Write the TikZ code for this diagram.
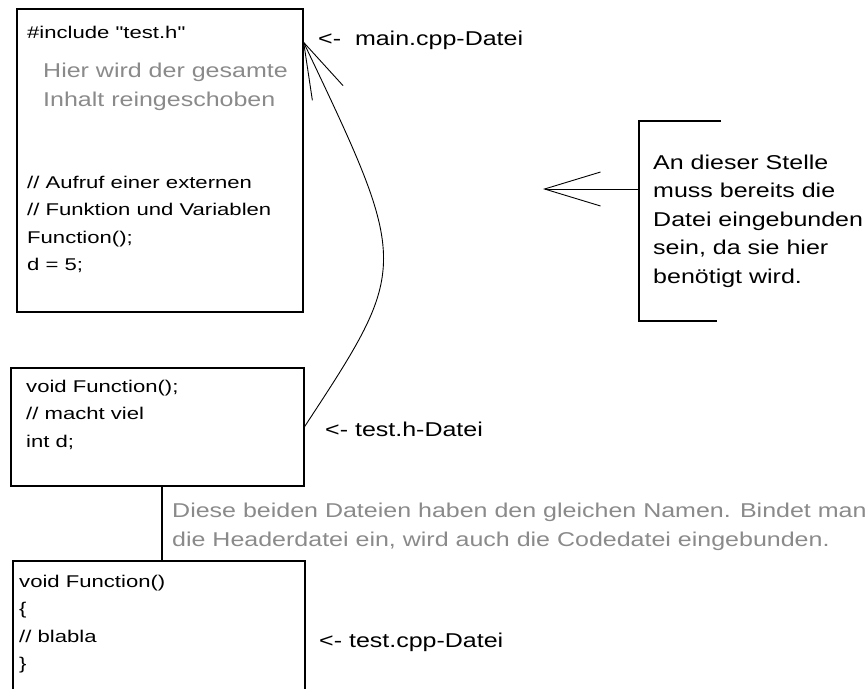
\documentclass[tikz,border=0pt]{standalone}
\usepackage{fontspec}
\setmainfont{Liberation Sans}
\newfontfamily\codefont[FakeStretch=1.3]{Liberation Sans}
\newfontfamily\tagfont[FakeStretch=1.25]{Liberation Sans}
\usetikzlibrary{arrows.meta, positioning}
\definecolor{hintgray}{RGB}{138,138,138}

\begin{document}
\begin{tikzpicture}[x=1pt, y=-1pt,
    codebox/.style={draw, line width=1.5pt, anchor=north west, inner sep=0pt},
    codetext/.style={font=\codefont\fontsize{17}{27.5}\selectfont, align=left, inner sep=0pt, anchor=north west},
    filetag/.style={font=\tagfont\fontsize{20}{29}\selectfont, inner sep=0pt, anchor=base west},
    remark/.style={font=\tagfont\fontsize{20}{28.5}\selectfont, align=left, inner ysep=0pt},
    hint/.style={remark, text=hintgray, font=\tagfont\fontsize{20}{29}\selectfont},
    wire/.style={line width=0.9pt},
    barb/.style={-{Straight Barb[length=56pt, width=34pt]}}]
  \useasboundingbox (0,0) rectangle (866,688);
  \clip (0,0) rectangle (866,688);

  % die drei Dateien
  \node[codebox, minimum width=286pt, minimum height=303pt] (mainbox) at (16,8) {};
  \node[codebox, minimum width=293pt, minimum height=118pt] (hbox) at (10,367) {};
  \node[codebox, minimum width=292pt, minimum height=150pt] (cppbox) at (12,560) {};

  \node[codetext] (incl) [below right=17.6pt and 11pt of mainbox.north west] {\#include "test.h"};
  \node[hint, inner sep=0pt] (merged) [below right=54.5pt and 27pt of mainbox.north west] {Hier wird der gesamte\\Inhalt reingeschoben};
  \node[codetext] (call) [below right=167.6pt and 11pt of mainbox.north west] {// Aufruf einer externen\\// Funktion und Variablen\\Function();\\d = 5;};
  \node[codetext] (decl) [below right=12.6pt and 16pt of hbox.north west] {void Function();\\// macht viel\\int d;};
  \node[codetext] (body) [below right=14.6pt and 7pt of cppbox.north west] {void Function()\\\{\\// blabla\\\}};

  \node[filetag] (maintag) at (318,45) {<-\ \ main.cpp-Datei};
  \node[filetag] (htag) at (325,436) {<- test.h-Datei};
  \node[filetag] (cpptag) at (319,647) {<- test.cpp-Datei};

  % Header und Code gehoeren zusammen
  \node[hint, inner xsep=10pt, anchor=north west] (samename) at (162,502.5) {Diese beiden Dateien haben den gleichen Namen. Bindet man\\die Headerdatei ein, wird auch die Codedatei eingebunden.};
  \draw[line width=1.5pt] (hbox.south -| samename.west) -- (cppbox.north -| samename.west);

  % Einbinden
  \coordinate (tip) at (303,41);
  \draw[wire, barb] (hbox.east) .. controls (410,266) and (410,266) .. (tip);

  \node[remark, inner xsep=14pt, minimum height=200pt, anchor=west] (reason) at (639,221) {An dieser Stelle\\muss bereits die\\Datei eingebunden\\sein, da sie hier\\benötigt wird.};
  \draw[line width=1.5pt] ([xshift=82pt]reason.north west) -- (reason.north west) -- (reason.south west) -- ([xshift=78pt]reason.south west);
  \coordinate (spot) at (543,189);
  \draw[wire, barb] (reason.west |- spot) -- (spot);
\end{tikzpicture}
\end{document}
